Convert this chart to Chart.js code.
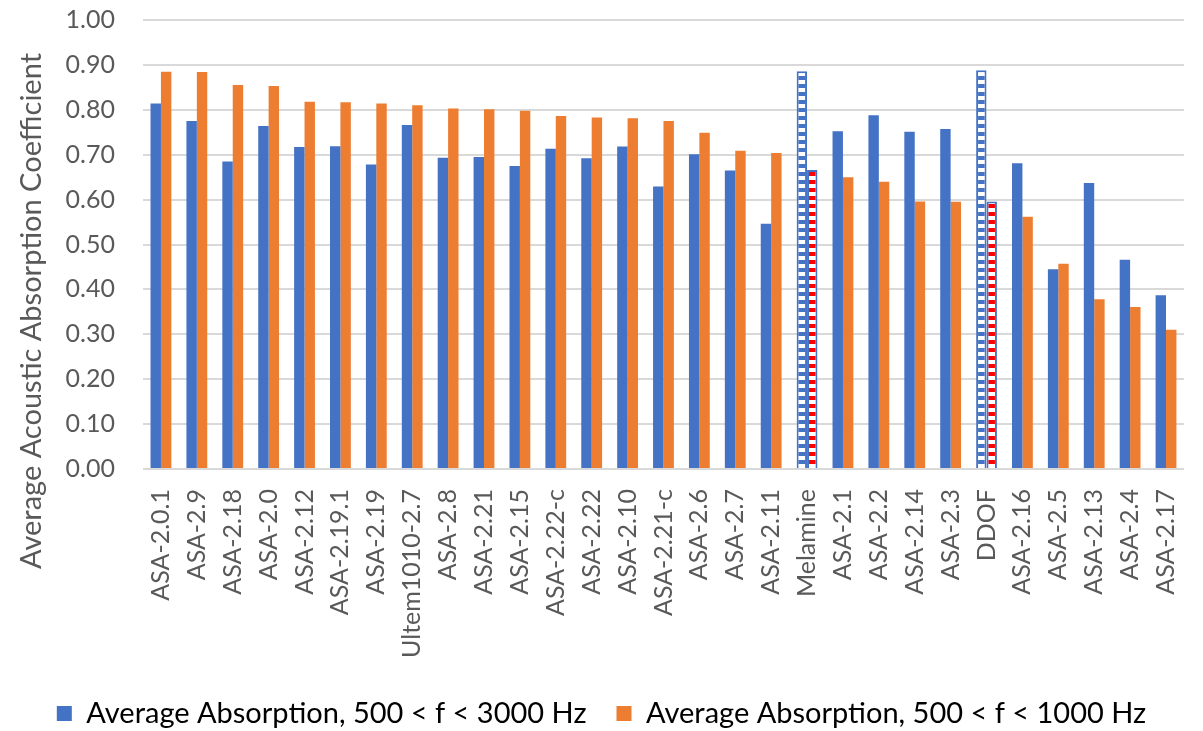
<!DOCTYPE html>
<html>
<head>
<meta charset="utf-8">
<title>Average Acoustic Absorption Coefficient</title>
<script src="https://cdn.jsdelivr.net/npm/chart.js@4.4.1/dist/chart.umd.min.js"></script>
<style>
  html, body { margin: 0; padding: 0; background: #fff; }
  #absorption { display: block; }
</style>
</head>
<body>
<canvas id="absorption" width="1203" height="731"></canvas>
<script>
// samples, sorted by the 500-1000 Hz average
var samples = ['ASA-2.0.1', 'ASA-2.9', 'ASA-2.18', 'ASA-2.0', 'ASA-2.12', 'ASA-2.19.1', 'ASA-2.19',
  'Ultem1010-2.7', 'ASA-2.8', 'ASA-2.21', 'ASA-2.15', 'ASA-2.22-c', 'ASA-2.22', 'ASA-2.10',
  'ASA-2.21-c', 'ASA-2.6', 'ASA-2.7', 'ASA-2.11', 'Melamine', 'ASA-2.1', 'ASA-2.2', 'ASA-2.14',
  'ASA-2.3', 'DDOF', 'ASA-2.16', 'ASA-2.5', 'ASA-2.13', 'ASA-2.4', 'ASA-2.17'];

var avg500to3000 = [0.814, 0.775, 0.685, 0.764, 0.717, 0.719, 0.678, 0.766, 0.693, 0.695,
  0.675, 0.713, 0.692, 0.718, 0.629, 0.701, 0.665, 0.546, 0.886, 0.752, 0.788, 0.751,
  0.757, 0.888, 0.681, 0.445, 0.637, 0.466, 0.387];

var avg500to1000 = [0.885, 0.884, 0.855, 0.853, 0.818, 0.817, 0.814, 0.810, 0.803, 0.801,
  0.798, 0.786, 0.783, 0.781, 0.775, 0.749, 0.709, 0.704, 0.666, 0.650, 0.640, 0.596,
  0.595, 0.596, 0.562, 0.457, 0.378, 0.361, 0.310];

var yTicks = [0, 0.1, 0.2, 0.3, 0.4, 0.5, 0.6, 0.7, 0.8, 0.9, 1.0];

// reference materials get striped bars
var referenceSamples = ['Melamine', 'DDOF'];

var BLUE = '#4472C4', ORANGE = '#ED7D31', RED = '#FF0000', TEXT = '#595959';
var FONT = 'Lato';

function stripes(color) {
  var c = document.createElement('canvas');
  c.width = 4; c.height = 8;
  var g = c.getContext('2d');
  g.fillStyle = '#ffffff';
  g.fillRect(0, 0, 4, 8);
  g.fillStyle = color;
  g.fillRect(0, 4, 4, 4);
  return g.createPattern(c, 'repeat');
}

var blueStripes = stripes(BLUE);
var redStripes = stripes(RED);

function isReference(ctx) {
  return ctx.dataIndex !== undefined && referenceSamples.indexOf(samples[ctx.dataIndex]) >= 0;
}

// y title sits lower than the plot centre, so it is drawn by hand
var yTitle = {
  id: 'yTitle',
  afterDraw: function(chart) {
    var c = chart.ctx;
    c.save();
    c.translate(32, 311);
    c.rotate(-Math.PI / 2);
    c.font = '29px ' + FONT;
    c.fillStyle = TEXT;
    c.textAlign = 'center';
    c.textBaseline = 'middle';
    c.fillText('Average Acoustic Absorption Coefficient', 0, 0);
    c.restore();
  }
};

Chart.defaults.font.family = FONT;
Chart.defaults.color = TEXT;

var chart = new Chart('absorption', {
  type: 'bar',
  plugins: [yTitle],
  data: {
    labels: samples,
    datasets: [
      {
        label: 'Average Absorption, 500 < f < 3000 Hz',
        data: avg500to3000,
        backgroundColor: function(ctx) { return isReference(ctx) ? blueStripes : BLUE; },
        borderColor: BLUE,
        borderWidth: function(ctx) { return isReference(ctx) ? 2 : 0; },
        barPercentage: 1.0,
        categoryPercentage: 0.58
      },
      {
        label: 'Average Absorption, 500 < f < 1000 Hz',
        data: avg500to1000,
        backgroundColor: function(ctx) { return isReference(ctx) ? redStripes : ORANGE; },
        borderColor: BLUE,
        borderWidth: function(ctx) { return isReference(ctx) ? 2 : 0; },
        barPercentage: 1.0,
        categoryPercentage: 0.58
      }
    ]
  },
  options: {
    responsive: false,
    animation: false,
    layout: { padding: { top: 20, right: 0, bottom: -7, left: 0 } },
    plugins: {
      tooltip: { enabled: false },
      legend: {
        position: 'bottom',
        labels: {
          boxWidth: 15,
          boxHeight: 15,
          padding: 30,
          color: TEXT,
          font: { size: 29 },
          generateLabels: function(chart) {
            return chart.data.datasets.map(function(ds, i) {
              return {
                text: ds.label,
                fillStyle: i === 0 ? BLUE : ORANGE,
                strokeStyle: i === 0 ? BLUE : ORANGE,
                lineWidth: 0,
                datasetIndex: i
              };
            });
          }
        }
      }
    },
    scales: {
      x: {
        grid: { display: false },
        border: { display: false },
        ticks: {
          minRotation: 90,
          maxRotation: 90,
          autoSkip: false,
          padding: 12,
          color: TEXT,
          font: { size: 25, lineHeight: 1.0 }
        },
        afterFit: function(scale) { scale.height = 200; }
      },
      y: {
        min: 0,
        max: 1,
        afterBuildTicks: function(scale) {
          scale.ticks = yTicks.map(function(v) { return { value: v }; });
        },
        grid: { color: '#D9D9D9', lineWidth: 2, drawTicks: false },
        border: { display: false },
        ticks: {
          padding: 28,
          color: TEXT,
          font: { size: 25 },
          callback: function(v) { return v.toFixed(2); }
        },
        afterFit: function(scale) {
          scale.width = 143;
          // tick padding would otherwise push the plot top down
          scale.paddingTop = 0;
          scale.paddingBottom = 0;
        }
      }
    }
  }
});
</script>
</body>
</html>
